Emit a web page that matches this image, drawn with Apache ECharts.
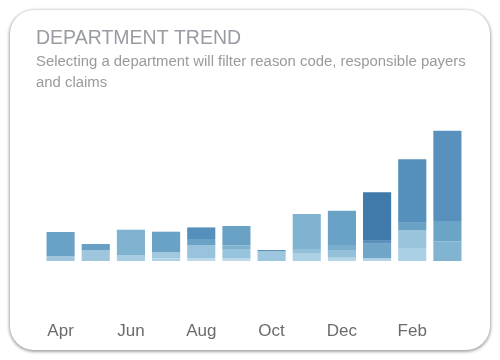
<!DOCTYPE html>
<html>
<head>
<meta charset="utf-8">
<script src="https://cdn.jsdelivr.net/npm/echarts@6/dist/echarts.min.js"></script>
<style>
html,body{margin:0;padding:0;background:#ffffff;}
#wrap{position:relative;width:500px;height:360px;overflow:hidden;background:#fff;}
#card{position:absolute;left:10px;top:10px;width:480px;height:340px;border-radius:24px;background:#fff;box-shadow:0 1px 3px 1px rgba(0,0,0,0.35);}
#chart{position:absolute;left:0;top:0;width:500px;height:360px;}
</style>
</head>
<body>
<div id="wrap"><div id="card"></div><div id="chart"></div></div>
<script>
var months = ['Apr','May','Jun','Jul','Aug','Sep','Oct','Nov','Dec','Jan','Feb','Mar'];
// stacked segments, bottom to top
var seg1 = [4.6, 10.6, 6.0, 2.6, 2.6, 2.6, 0, 0, 3.3, 2.7, 13.0, 0];
var seg2 = [0, 0, 0, 6.0, 13.0, 8.7, 9.7, 7.3, 7.7, 14.6, 18.0, 19.7];
var seg3 = [0, 0, 0, 0, 6.4, 4.3, 0, 4.7, 5.0, 3.0, 7.3, 20.3];
var seg4 = [24.4, 6.4, 25.3, 20.7, 11.6, 19.4, 1.3, 35.0, 34.3, 48.4, 63.4, 90.3];

var col1 = ['#9fc6dd','#9fc6dd','#a8cde2','#b0d2e5','#bcd8ea','#bcd8ea','#9ec6de','#acd0e4','#b5d5e8','#b3d4e7','#abd0e5','#80b4d1'];
var col2 = ['#9fc6dd','#9fc6dd','#a8cde2','#a0c8de','#97c3dc','#97c3dc','#9ec6de','#acd0e4','#95c0da','#70a6c8','#9ac3dc','#80b4d1'];
var col3 = ['#80b2cf','#80b2cf','#80b2cf','#80b2cf','#6aa2c6','#7fb2cf','#80b2cf','#95c0da','#7aaecd','#5a90bd','#6aa2c6','#6ca4c7'];
var col4 = ['#6aa2c6','#6a9fc5','#80b3d0','#6aa2c6','#5590bd','#6aa2c6','#5a90bd','#80b3d0','#6aa2c6','#3f7aab','#5590bd','#5a90bd'];

function mk(vals, cols){
  return {
    type:'bar', stack:'t', barWidth:'80%',
    data: vals.map(function(v,i){ return {value:v, itemStyle:{color:cols[i]}}; })
  };
}
var chart = echarts.init(document.getElementById('chart'), null, {renderer:'canvas'});
chart.setOption({
  backgroundColor:'transparent',
  animation:false,
  title:{
    text:'DEPARTMENT TREND',
    subtext:'Selecting a department will filter reason code, responsible payers\nand claims',
    left:31, top:24,
    itemGap:3,
    textStyle:{fontFamily:'Liberation Sans', fontSize:19.5, fontWeight:'normal', color:'#9a9ca3'},
    subtextStyle:{fontFamily:'Liberation Sans', fontSize:14.9, color:'#9a9a9a', lineHeight:20.5}
  },
  grid:{left:43, right:35, top:121, bottom:99},
  xAxis:{
    type:'category', data:months,
    axisLine:{show:false}, axisTick:{show:false},
    axisLabel:{interval:1, margin:62, fontFamily:'Liberation Sans', fontSize:17, color:'#6b6b6b'}
  },
  yAxis:{type:'value', min:0, max:140, show:false, splitLine:{show:false}},
  series:[mk(seg1,col1), mk(seg2,col2), mk(seg3,col3), mk(seg4,col4)]
});
</script>
</body>
</html>
